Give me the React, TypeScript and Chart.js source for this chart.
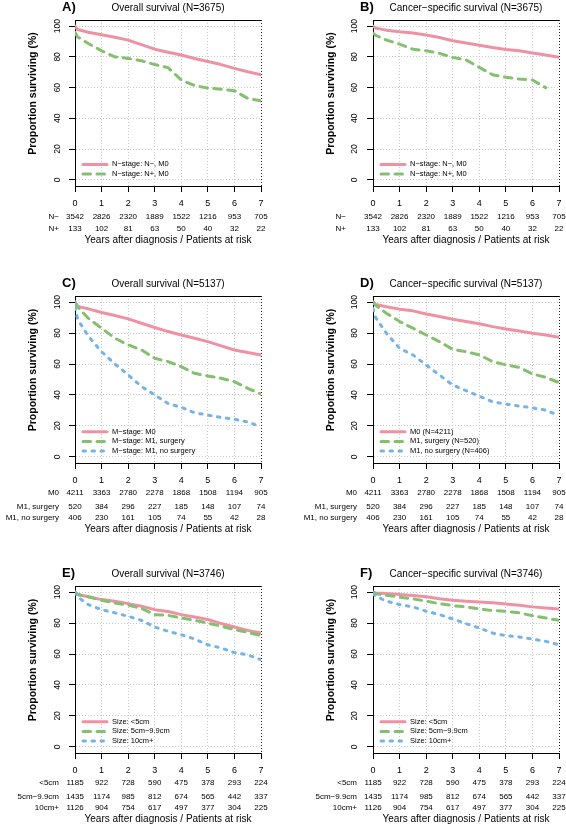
import React, { useEffect, useRef } from "react";
import { Chart, registerables } from "chart.js";

Chart.register(...registerables);

const FONT = '"Liberation Sans", Arial, Helvetica, sans-serif';

// Time points (years) at which the survival curves were read
const TIMES = [0, 0.1, 0.5, 1, 1.5, 2, 2.5, 3, 3.5, 4, 4.5, 5, 5.5, 6, 6.5, 7];
const YEARS = [0, 1, 2, 3, 4, 5, 6, 7];
const PCT_TICKS = [0, 20, 40, 60, 80, 100];

// Panel A – overall survival by N-stage
const A_NNEG = [100, 97.8, 96, 94.4, 92.8, 90.9, 88, 85, 83, 81.2, 79, 77, 75, 72.5, 70.3, 68.4];
const A_NPOS = [96, 93, 88.7, 84, 80, 79, 77.5, 75, 73, 65, 61.3, 59.7, 59, 58, 53, 51.5];
// Panel B – cancer-specific survival by N-stage
const B_NNEG = [100, 98.7, 97.4, 96.3, 95.5, 94.2, 92.6, 90.5, 89, 87.6, 86.1, 84.8, 84, 82.5, 81.2, 79.7];
const B_NPOS = [95.5, 94, 91, 88.3, 85, 84, 82.3, 79.7, 78, 73.2, 68.4, 66.7, 65.6, 65, 60, null];
// Panel C – overall survival by M-stage
const C_M0 = [100, 97.2, 95.7, 93.3, 91.4, 89.2, 86.4, 83.6, 81, 78.8, 76.7, 74.5, 71.7, 69.1, 67.4, 65.9];
const C_M1S = [100, 97, 89.6, 83.2, 76.7, 72.4, 69.1, 63.7, 61.6, 58.3, 54, 52.3, 50.8, 48.6, 44.3, 40.6];
const C_M1N = [97, 89, 78, 68, 60, 53, 45.5, 40, 34.5, 32, 28.5, 27, 25.5, 24.3, 22.5, 19.5];
// Panel D – cancer-specific survival by M-stage
const D_M0 = [100, 98.5, 97, 95.5, 94.4, 92.4, 90.7, 89, 87.5, 86, 84.2, 82.7, 81.4, 79.9, 78.8, 77.3];
const D_M1S = [100, 98, 92.9, 87.5, 83.2, 78.8, 74.5, 69.5, 68, 65.9, 61.6, 59.4, 57.9, 53.6, 51.4, 48];
const D_M1N = [96, 90, 80, 70.2, 65.9, 59.4, 52.9, 46.4, 42.8, 39.3, 35.6, 34.1, 32.8, 31.7, 30.2, 26.6];
// Panel E – overall survival by tumour size
const E_S5 = [100, 98.5, 97, 95.2, 94.2, 92.6, 90.9, 88.7, 87.5, 85.5, 84, 82.3, 79.7, 77.5, 75.3, 73.6];
const E_S59 = [100, 98.5, 97, 94.8, 93.1, 91.6, 89.5, 85.5, 85, 83.3, 81.8, 80, 78, 75.8, 74, 71.9];
const E_S10 = [100, 97, 92, 88.7, 86.6, 84.4, 81.8, 77.5, 74.7, 72.5, 69.7, 66, 63.9, 61, 59.5, 56.3];
// Panel F – cancer-specific survival by tumour size
const F_S5 = [100, 99.5, 99.1, 98.5, 97.8, 97, 95.7, 94.8, 94.2, 93.7, 93.1, 92.4, 91.6, 90.5, 89.8, 89.2];
const F_S59 = [100, 99, 98, 96.8, 95.7, 94.2, 92.6, 91.3, 90.5, 89.2, 88.1, 87.7, 86.6, 84.8, 83.3, 81.8];
const F_S10 = [99, 97.5, 94.2, 92, 90.5, 87.7, 85.5, 82.7, 79.7, 76.8, 73.6, 71.9, 71, 69.7, 68.2, 66];

// Patients at risk
const N_LABELS = ["N\u2212", "N+"];
const RISK_NNEG = [3542, 2826, 2320, 1889, 1522, 1216, 953, 705];
const RISK_NPOS = [133, 102, 81, 63, 50, 40, 32, 22];
const M_LABELS = ["M0", "M1, surgery", "M1, no surgery"];
const RISK_M0 = [4211, 3363, 2780, 2278, 1868, 1508, 1194, 905];
const RISK_M1S = [520, 384, 296, 227, 185, 148, 107, 74];
const RISK_M1N = [406, 230, 161, 105, 74, 55, 42, 28];
const SIZE_LABELS = ["<5cm", "5cm\u22129.9cm", "10cm+"];
const RISK_S5 = [1185, 922, 728, 590, 475, 378, 293, 224];
const RISK_S59 = [1435, 1174, 985, 812, 674, 565, 442, 337];
const RISK_S10 = [1126, 904, 754, 617, 497, 377, 304, 225];

type StyleKey = "solid" | "dashed" | "dotted";
const STYLE: Record<StyleKey, { color: string; dash: number[] }> = {
  solid: { color: "#EE92A3", dash: [] },
  dashed: { color: "#85BF70", dash: [7.5, 6.5] },
  dotted: { color: "#76B4E5", dash: [2.5, 6.5] },
};

type SeriesDef = { label: string; values: (number | null)[]; style: StyleKey };
type PanelDef = {
  letter: string;
  title: string;
  left: number;
  top: number;
  width: number;
  height: number;
  chartLeft: number;
  chartRight: number;
  chartTop: number;
  chartBottom: number;
  series: SeriesDef[];
  riskLabels: string[];
  riskRows: number[][];
  rowOffsets: number[];
  xTitleOffset: number;
  rowLabelGap: number;
  yTickGap: number;
};

const OFF2 = [31, 43];
const OFF3 = [30, 43.3, 55.2];

const PANELS: PanelDef[] = [
  {
    letter: "A)", title: "Overall survival (N=3675)",
    left: 0, top: 0, width: 283, height: 270, chartLeft: 75, chartRight: 261, chartTop: 20, chartBottom: 186,
    series: [
      { label: "N\u2212stage: N\u2212, M0", values: A_NNEG, style: "solid" },
      { label: "N\u2212stage: N+, M0", values: A_NPOS, style: "dashed" },
    ],
    riskLabels: N_LABELS, riskRows: [RISK_NNEG, RISK_NPOS], rowOffsets: OFF2, xTitleOffset: 54, rowLabelGap: 16, yTickGap: 17,
  },
  {
    letter: "B)", title: "Cancer\u2212specific survival (N=3675)",
    left: 283, top: 0, width: 283, height: 270, chartLeft: 90, chartRight: 276, chartTop: 20, chartBottom: 186,
    series: [
      { label: "N\u2212stage: N\u2212, M0", values: B_NNEG, style: "solid" },
      { label: "N\u2212stage: N+, M0", values: B_NPOS, style: "dashed" },
    ],
    riskLabels: N_LABELS, riskRows: [RISK_NNEG, RISK_NPOS], rowOffsets: OFF2, xTitleOffset: 54, rowLabelGap: 27, yTickGap: 18,
  },
  {
    letter: "C)", title: "Overall survival (N=5137)",
    left: 0, top: 276, width: 283, height: 280, chartLeft: 75, chartRight: 261, chartTop: 20, chartBottom: 187,
    series: [
      { label: "M\u2212stage: M0", values: C_M0, style: "solid" },
      { label: "M\u2212stage: M1, surgery", values: C_M1S, style: "dashed" },
      { label: "M\u2212stage: M1, no surgery", values: C_M1N, style: "dotted" },
    ],
    riskLabels: M_LABELS, riskRows: [RISK_M0, RISK_M1S, RISK_M1N], rowOffsets: OFF3, xTitleOffset: 66.2, rowLabelGap: 16, yTickGap: 17,
  },
  {
    letter: "D)", title: "Cancer\u2212specific survival (N=5137)",
    left: 283, top: 276, width: 283, height: 280, chartLeft: 90, chartRight: 276, chartTop: 20, chartBottom: 187,
    series: [
      { label: "M0 (N=4211)", values: D_M0, style: "solid" },
      { label: "M1, surgery (N=520)", values: D_M1S, style: "dashed" },
      { label: "M1, no surgery (N=406)", values: D_M1N, style: "dotted" },
    ],
    riskLabels: M_LABELS, riskRows: [RISK_M0, RISK_M1S, RISK_M1N], rowOffsets: OFF3, xTitleOffset: 66.2, rowLabelGap: 16, yTickGap: 18,
  },
  {
    letter: "E)", title: "Overall survival (N=3746)",
    left: 0, top: 566, width: 283, height: 259, chartLeft: 75, chartRight: 261, chartTop: 20, chartBottom: 187,
    series: [
      { label: "Size: <5cm", values: E_S5, style: "solid" },
      { label: "Size: 5cm\u22129.9cm", values: E_S59, style: "dashed" },
      { label: "Size: 10cm+", values: E_S10, style: "dotted" },
    ],
    riskLabels: SIZE_LABELS, riskRows: [RISK_S5, RISK_S59, RISK_S10], rowOffsets: OFF3, xTitleOffset: 66.2, rowLabelGap: 16, yTickGap: 17,
  },
  {
    letter: "F)", title: "Cancer\u2212specific survival (N=3746)",
    left: 283, top: 566, width: 283, height: 259, chartLeft: 90, chartRight: 276, chartTop: 20, chartBottom: 187,
    series: [
      { label: "Size: <5cm", values: F_S5, style: "solid" },
      { label: "Size: 5cm\u22129.9cm", values: F_S59, style: "dashed" },
      { label: "Size: 10cm+", values: F_S10, style: "dotted" },
    ],
    riskLabels: SIZE_LABELS, riskRows: [RISK_S5, RISK_S59, RISK_S10], rowOffsets: OFF3, xTitleOffset: 66.2, rowLabelGap: 16, yTickGap: 18,
  },
];

function decor(p: PanelDef) {
  return {
    id: "decor" + p.letter.charAt(0),
    afterDraw(chart: any) {
      const ctx: CanvasRenderingContext2D = chart.ctx;
      const ca = chart.chartArea;
      const xs = chart.scales.x;
      const ys = chart.scales.y;
      ctx.save();
      ctx.setLineDash([]);
      // top frame line
      ctx.strokeStyle = "#000";
      ctx.lineWidth = 1;
      ctx.beginPath();
      ctx.moveTo(ca.left, Math.round(ca.top) + 0.5);
      ctx.lineTo(ca.right, Math.round(ca.top) + 0.5);
      ctx.stroke();

      ctx.fillStyle = "#000";
      ctx.textBaseline = "middle";
      const cx = (ca.left + ca.right) / 2;
      // title
      ctx.font = `10px ${FONT}`;
      ctx.textAlign = "center";
      ctx.fillText(p.title, cx, ca.top - 12);
      // panel letter
      ctx.font = `bold 13px ${FONT}`;
      ctx.textAlign = "left";
      ctx.fillText(p.letter, ca.left - 13, ca.top - 12.5);
      // y tick labels (rotated)
      ctx.font = `8.5px ${FONT}`;
      for (const v of PCT_TICKS) {
        const y = ys.getPixelForValue(v);
        ctx.save();
        ctx.translate(ca.left - p.yTickGap, y);
        ctx.rotate(-Math.PI / 2);
        ctx.textAlign = "center";
        ctx.fillText(String(v), 0, 0);
        ctx.restore();
      }
      // y axis title
      ctx.save();
      ctx.font = `bold 10.5px ${FONT}`;
      ctx.translate(ca.left - 42, (ca.top + ca.bottom) / 2 - 9.5);
      ctx.rotate(-Math.PI / 2);
      ctx.textAlign = "center";
      ctx.fillText("Proportion surviving (%)", 0, 0);
      ctx.restore();
      // x tick labels
      ctx.font = `9px ${FONT}`;
      ctx.textAlign = "center";
      for (const v of YEARS) ctx.fillText(String(v), xs.getPixelForValue(v), ca.bottom + 17.5);
      // numbers at risk
      p.riskRows.forEach((row, r) => {
        const y = ca.bottom + p.rowOffsets[r];
        ctx.font = `8px ${FONT}`;
        ctx.textAlign = "right";
        ctx.fillText(p.riskLabels[r], ca.left - p.rowLabelGap, y);
        ctx.textAlign = "center";
        row.forEach((n, k) => ctx.fillText(String(n), xs.getPixelForValue(YEARS[k]), y));
      });
      // x axis title
      ctx.font = `10px ${FONT}`;
      ctx.textAlign = "center";
      ctx.fillText("Years after diagnosis / Patients at risk", cx, ca.bottom + p.xTitleOffset);
      // legend
      const n = p.series.length;
      p.series.forEach((s, i) => {
        const y = ca.bottom - 12 - 9.6 * (n - 1 - i);
        const st = STYLE[s.style];
        ctx.save();
        ctx.strokeStyle = st.color;
        ctx.lineWidth = 3;
        ctx.lineCap = "round";
        ctx.setLineDash(st.dash);
        ctx.beginPath();
        ctx.moveTo(ca.left + 8, y);
        ctx.lineTo(ca.left + 32, y);
        ctx.stroke();
        ctx.restore();
        ctx.font = `7.5px ${FONT}`;
        ctx.textAlign = "left";
        ctx.fillText(s.label, ca.left + 37, y);
      });
      ctx.restore();
    },
  };
}

function PanelChart({ p }: { p: PanelDef }) {
  const ref = useRef<HTMLCanvasElement>(null);
  useEffect(() => {
    const canvas = ref.current;
    if (!canvas) return;
    const gridColor = "#c9c9c9";
    const chart = new Chart(canvas, {
      type: "line",
      data: {
        datasets: p.series.map((s, i) => ({
          label: s.label,
          data: TIMES.map((t, k) => ({ x: t, y: s.values[k] })).filter((d) => d.y !== null) as any,
          borderColor: STYLE[s.style].color,
          borderDash: STYLE[s.style].dash,
          borderWidth: 3,
          borderCapStyle: "round",
          borderJoinStyle: "round",
          pointRadius: 0,
          fill: false,
          tension: 0,
          order: p.series.length - i,
        })),
      },
      options: {
        responsive: false,
        maintainAspectRatio: false,
        animation: false,
        devicePixelRatio: 1,
        events: [],
        layout: { padding: { left: 0, top: p.chartTop, right: p.width - p.chartRight, bottom: 0 } },
        plugins: { legend: { display: false }, tooltip: { enabled: false }, title: { display: false } },
        scales: {
          x: {
            type: "linear",
            min: 0,
            max: 7,
            afterBuildTicks: (s: any) => {
              s.ticks = YEARS.map((v) => ({ value: v }));
            },
            afterFit: (s: any) => {
              s.height = p.height - p.chartBottom;
            },
            ticks: { display: false },
            grid: {
              color: (c: any) => (c.tick && c.tick.value === 7 ? "#222" : gridColor),
              lineWidth: 1,
              drawTicks: true,
              tickLength: 6,
              tickColor: "#000",
              tickWidth: 1,
            },
            border: { display: true, color: "#000", width: 1, dash: [1, 2] },
          },
          y: {
            type: "linear",
            min: -4,
            max: 104,
            afterBuildTicks: (s: any) => {
              s.ticks = PCT_TICKS.map((v) => ({ value: v }));
            },
            afterFit: (s: any) => {
              s.width = p.chartLeft;
            },
            ticks: { display: false },
            grid: {
              color: gridColor,
              lineWidth: 1,
              drawTicks: true,
              tickLength: 6,
              tickColor: "#000",
              tickWidth: 1,
            },
            border: { display: true, color: "#000", width: 1, dash: [1, 2] },
          },
        },
      } as any,
      plugins: [decor(p)],
    });
    return () => chart.destroy();
  }, [p]);
  return (
    <canvas
      ref={ref}
      width={p.width}
      height={p.height}
      style={{ position: "absolute", left: p.left, top: p.top, width: p.width, height: p.height }}
    />
  );
}

export default function App() {
  return (
    <div
      style={{
        position: "absolute",
        left: 0,
        top: 0,
        width: 566,
        height: 825,
        background: "#fff",
        overflow: "hidden",
      }}
    >
      {PANELS.map((p) => (
        <PanelChart key={p.letter} p={p} />
      ))}
    </div>
  );
}
